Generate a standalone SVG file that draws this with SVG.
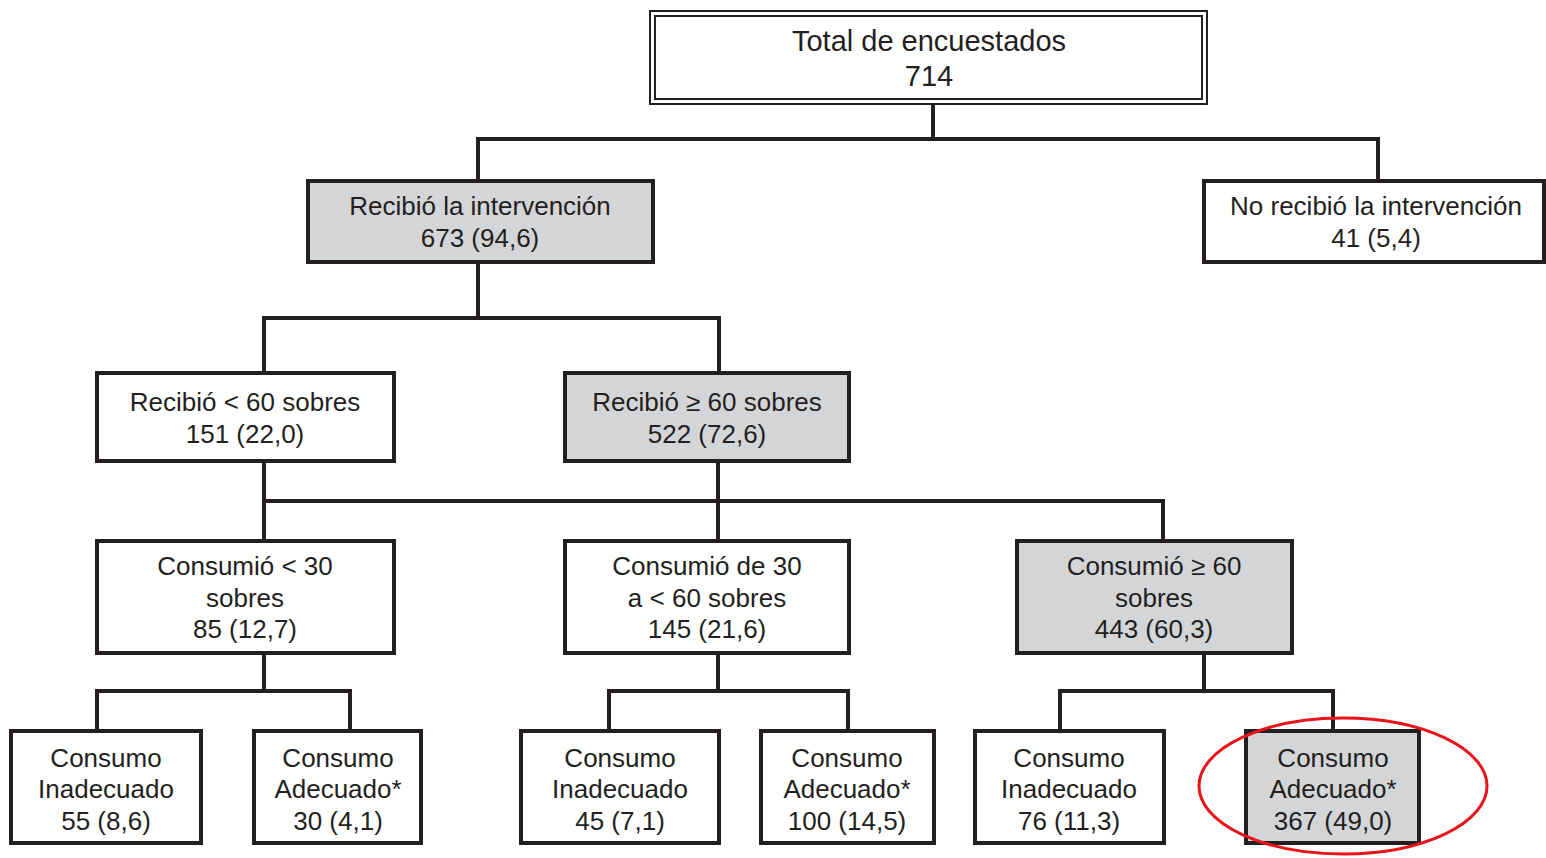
<svg xmlns="http://www.w3.org/2000/svg" width="1546" height="858" viewBox="0 0 1546 858">
<style>
.box{fill:#ffffff;stroke:#231f20;stroke-width:4}
.grey{fill:#d4d5d7}
.t{font-family:"Liberation Sans",Arial,sans-serif;font-size:26px;fill:#231f20;text-anchor:middle}
.big{font-size:29px}
.conn{fill:none;stroke:#231f20;stroke-width:4;stroke-linejoin:miter}
</style>
<rect width="1546" height="858" fill="#ffffff"/>
<g id="connectors">
<path class="conn" d="M933,102 V139 M478,181 V139 H1378 V181"/>
<path class="conn" d="M478,262 V318 M264,373 V318 H719 V373"/>
<path class="conn" d="M264,461 V541 M718,461 V541 M264,501 H1163 V541"/>
<path class="conn" d="M264,653 V691 M97,731 V691 H350 V731"/>
<path class="conn" d="M718,653 V691 M609,731 V691 H848 V731"/>
<path class="conn" d="M1204,653 V691 M1060,731 V691 H1333 V731"/>
</g>
<g id="n0">
<rect x="650" y="11" width="557" height="93" fill="#ffffff" stroke="#231f20" stroke-width="2"/>
<rect x="655" y="16" width="547" height="83" fill="none" stroke="#231f20" stroke-width="2"/>
<text class="t big" x="929" y="51">Total de encuestados</text>
<text class="t big" x="929" y="86">714</text>
</g>
<g id="n1">
<rect class="box grey" x="308" y="181" width="345" height="81"/>
<text class="t" x="480" y="215">Recibió la intervención</text>
<text class="t" x="480" y="247">673 (94,6)</text>
</g>
<g id="n2">
<rect class="box" x="1204" y="181" width="340" height="81"/>
<text class="t" x="1376" y="215">No recibió la intervención</text>
<text class="t" x="1376" y="247">41 (5,4)</text>
</g>
<g id="n3">
<rect class="box" x="97" y="373" width="297" height="88"/>
<text class="t" x="245" y="411">Recibió &lt; 60 sobres</text>
<text class="t" x="245" y="443">151 (22,0)</text>
</g>
<g id="n4">
<rect class="box grey" x="565" y="373" width="284" height="88"/>
<text class="t" x="707" y="411">Recibió ≥ 60 sobres</text>
<text class="t" x="707" y="443">522 (72,6)</text>
</g>
<g id="n5">
<rect class="box" x="97" y="541" width="297" height="112"/>
<text class="t" x="245" y="575">Consumió &lt; 30</text>
<text class="t" x="245" y="607">sobres</text>
<text class="t" x="245" y="638">85 (12,7)</text>
</g>
<g id="n6">
<rect class="box" x="565" y="541" width="284" height="112"/>
<text class="t" x="707" y="575">Consumió de 30</text>
<text class="t" x="707" y="607">a &lt; 60 sobres</text>
<text class="t" x="707" y="638">145 (21,6)</text>
</g>
<g id="n7">
<rect class="box grey" x="1017" y="541" width="275" height="112"/>
<text class="t" x="1154" y="575">Consumió ≥ 60</text>
<text class="t" x="1154" y="607">sobres</text>
<text class="t" x="1154" y="638">443 (60,3)</text>
</g>
<g id="n8">
<rect class="box" x="11" y="731" width="190" height="112"/>
<text class="t" x="106" y="767">Consumo</text>
<text class="t" x="106" y="798">Inadecuado</text>
<text class="t" x="106" y="830">55 (8,6)</text>
</g>
<g id="n9">
<rect class="box" x="254" y="731" width="167" height="112"/>
<text class="t" x="338" y="767">Consumo</text>
<text class="t" x="338" y="798">Adecuado*</text>
<text class="t" x="338" y="830">30 (4,1)</text>
</g>
<g id="n10">
<rect class="box" x="521" y="731" width="198" height="112"/>
<text class="t" x="620" y="767">Consumo</text>
<text class="t" x="620" y="798">Inadecuado</text>
<text class="t" x="620" y="830">45 (7,1)</text>
</g>
<g id="n11">
<rect class="box" x="761" y="731" width="173" height="112"/>
<text class="t" x="847" y="767">Consumo</text>
<text class="t" x="847" y="798">Adecuado*</text>
<text class="t" x="847" y="830">100 (14,5)</text>
</g>
<g id="n12">
<rect class="box" x="975" y="731" width="189" height="112"/>
<text class="t" x="1069" y="767">Consumo</text>
<text class="t" x="1069" y="798">Inadecuado</text>
<text class="t" x="1069" y="830">76 (11,3)</text>
</g>
<g id="n13">
<rect class="box grey" x="1246" y="731" width="173" height="112"/>
<text class="t" x="1333" y="767">Consumo</text>
<text class="t" x="1333" y="798">Adecuado*</text>
<text class="t" x="1333" y="830">367 (49,0)</text>
</g>
<g id="highlight">
<ellipse cx="1343" cy="786" rx="144" ry="68" fill="none" stroke="#e8141b" stroke-width="3"/>
</g>
</svg>
